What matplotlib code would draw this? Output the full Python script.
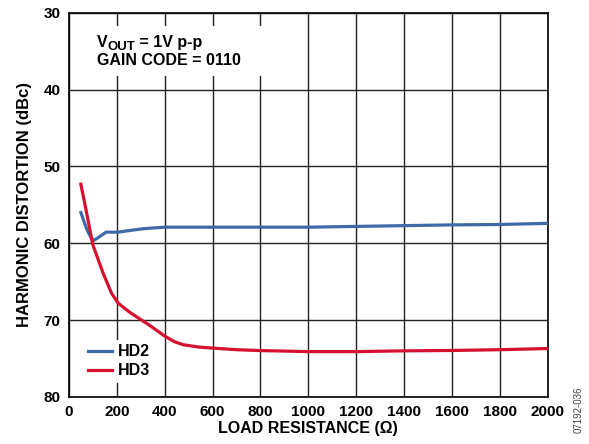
import matplotlib
matplotlib.use('Agg')
import matplotlib.pyplot as plt
from matplotlib.patches import Rectangle

plt.rcParams['font.family'] = ['Liberation Sans', 'DejaVu Sans']
plt.rcParams['font.weight'] = 'bold'

# load resistance (ohm) vs harmonic distortion (dBc)
hd2_x = [50, 75, 100, 125, 155, 205, 250, 310, 400, 600, 800, 1000, 1200, 1400, 1600, 1800, 2000]
hd2_y = [56.0, 58.2, 59.7, 59.2, 58.55, 58.55, 58.35, 58.1, 57.9, 57.9, 57.9, 57.9, 57.8, 57.7, 57.6, 57.55, 57.4]

hd3_x = [50, 80, 100, 143, 178, 206, 255, 338, 401, 440, 477, 540, 603, 700, 805, 1000, 1200, 1400, 1600, 1800, 2000]
hd3_y = [52.3, 57.0, 60.2, 63.9, 66.5, 67.8, 69.0, 70.7, 72.1, 72.8, 73.2, 73.5, 73.65, 73.85, 73.97, 74.1, 74.1, 74.0, 73.95, 73.85, 73.7]

xticks = list(range(0, 2001, 200))
yticks = [30, 40, 50, 60, 70, 80]

fig = plt.figure(figsize=(5.89, 4.44), dpi=100)
ax = fig.add_axes([0.117, 0.106, 0.813, 0.865])

ax.plot(hd2_x, hd2_y, color='#3F6AA8', lw=2.3, label='HD2', zorder=3)
ax.plot(hd3_x, hd3_y, color='#D7102F', lw=2.3, label='HD3', zorder=3)

ax.set_xlim(0, 2000)
ax.set_ylim(80, 30)
ax.set_xticks(xticks)
ax.set_yticks(yticks)
ax.grid(True, color='#222222', lw=1.0)
ax.tick_params(length=0, labelsize=11, pad=6)
for s in ax.spines.values():
    s.set_linewidth(1.2)

ax.set_xlabel('LOAD RESISTANCE (Ω)', fontsize=11.5, fontweight='bold', labelpad=1)
ax.set_ylabel('HARMONIC DISTORTION (dBc)', fontsize=12, fontweight='bold', labelpad=8)

# white area behind the condition text, hides the grid
ax.add_patch(Rectangle((0.044, 0.835), 0.376, 0.132, transform=ax.transAxes,
                       facecolor='white', edgecolor='none', zorder=2.5))
t1 = ax.text(0.058, 0.911, 'V', transform=ax.transAxes, fontsize=11.5,
             va='baseline', ha='left', zorder=5)
t2 = ax.annotate('OUT', xy=(1, 0), xycoords=t1, xytext=(0.3, -1.8), textcoords='offset points',
                 fontsize=9.5, va='bottom', ha='left', zorder=5)
t3 = ax.annotate(' = 1V p-p', xy=(1, 0), xycoords=t2, xytext=(0, 1.8), textcoords='offset points',
                 fontsize=11.5, va='bottom', ha='left', zorder=5)
ax.text(0.058, 0.865, 'GAIN CODE = 0110', transform=ax.transAxes, fontsize=11.5,
        va='baseline', ha='left', zorder=5)

leg = ax.legend(loc='lower left', bbox_to_anchor=(0.013, 0.015), frameon=True,
                handlelength=1.5, handletextpad=0.35, labelspacing=0.25,
                prop={'size': 11.5, 'weight': 'bold'}, borderpad=0.3)
leg.get_frame().set_edgecolor('none')
leg.get_frame().set_facecolor('white')
leg.get_frame().set_alpha(1)
leg.set_zorder(4)

fig.text(0.982, 0.077, '07192-036', rotation=90, fontsize=7, fontweight='normal',
         color='#444444', ha='center', va='center')

fig.savefig('out.png', dpi=100)
